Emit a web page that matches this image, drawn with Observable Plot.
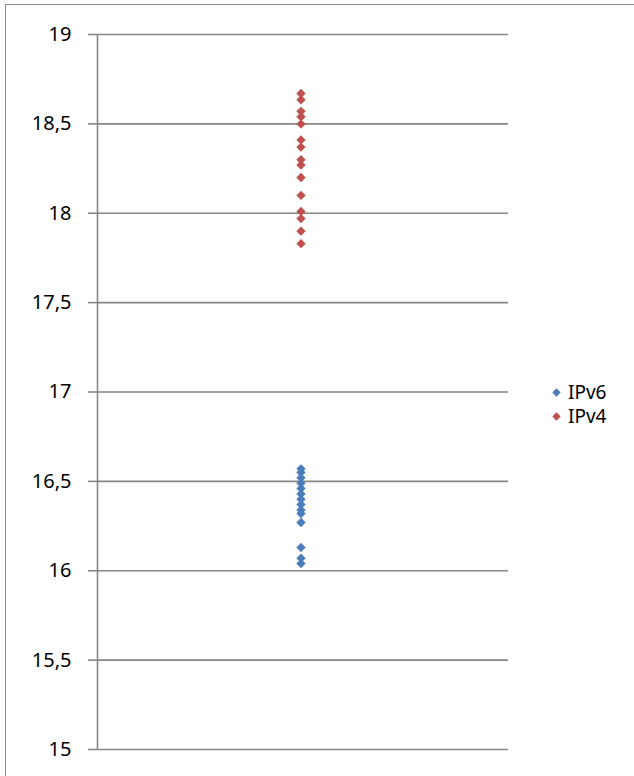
<!DOCTYPE html>
<html>
<head>
<meta charset="utf-8">
<script src="https://cdn.jsdelivr.net/npm/d3@7"></script>
<script src="https://cdn.jsdelivr.net/npm/@observablehq/plot@0.6"></script>
<style>
  html, body { margin: 0; padding: 0; background: #fff; }
  #wrap { position: relative; width: 634px; height: 776px; overflow: hidden; font-family: "Noto Sans", "Open Sans", sans-serif; }
  #frame { position: absolute; left: 5px; top: 4px; width: 700px; height: 900px; border-left: 1.5px solid #8a8a8a; border-top: 1.5px solid #8a8a8a; box-sizing: border-box; }
  #chart { position: absolute; left: 0; top: 0; }
  .legend { position: absolute; left: 551px; font-size: 19px; color: #000; line-height: 1; display: flex; align-items: center; }
  .legend svg { margin-right: 6px; }
</style>
</head>
<body>
<div id="wrap">
  <div id="frame"></div>
  <div id="chart"></div>
  <div class="legend" id="lg6" style="top:383px"></div>
  <div class="legend" id="lg4" style="top:407px"></div>
</div>
<script>
// Data
const seriesNames = ["IPv6", "IPv4"];
const seriesColors = ["#4a7ebb", "#c0504d"];
const ipv6Values = [16.57, 16.55, 16.52, 16.49, 16.46, 16.43, 16.40, 16.37, 16.34, 16.32, 16.27, 16.13, 16.07, 16.04];
const ipv4Values = [18.67, 18.635, 18.57, 18.54, 18.50, 18.41, 18.37, 18.30, 18.27, 18.20, 18.10, 18.01, 17.97, 17.90, 17.83];
const yTicks = [15, 15.5, 16, 16.5, 17, 17.5, 18, 18.5, 19];

const rows = [
  ...ipv6Values.map(v => ({series: "IPv6", value: v})),
  ...ipv4Values.map(v => ({series: "IPv4", value: v}))
];

const grey = "#868686";

const chart = Plot.plot({
  width: 634,
  height: 776,
  marginLeft: 97,
  marginRight: 126,
  marginTop: 34,
  marginBottom: 27,
  style: {fontFamily: "'Noto Sans', 'Open Sans', sans-serif", fontSize: "20px", background: "transparent", overflow: "visible"},
  x: {domain: [0, 1], axis: null},
  y: {domain: [15, 19], axis: null, label: null},
  color: {domain: seriesNames, range: seriesColors},
  marks: [
    Plot.ruleY(yTicks, {stroke: grey, strokeWidth: 1.6}),
    Plot.ruleX([0], {stroke: grey, strokeWidth: 1.6}),
    Plot.axisY({
      ticks: yTicks,
      label: null,
      tickSize: 9,
      tickPadding: 17,
      stroke: grey,
      strokeWidth: 1.6,
      fill: "#000",
      fontSize: 20,
      tickFormat: d => String(d).replace(".", ",")
    }),
    Plot.dot(rows, {
      x: () => 0.5,
      y: "value",
      dx: -2,
      symbol: "diamond2",
      r: 4.2,
      fill: "series",
      stroke: "none"
    })
  ]
});
document.getElementById("chart").appendChild(chart);

function legendItem(id, name, color) {
  const el = document.getElementById(id);
  el.innerHTML = `<svg width="11" height="11" viewBox="-5.5 -5.5 11 11"><path d="M0,-4.2L4.2,0L0,4.2L-4.2,0Z" fill="${color}"/></svg><span>${name}</span>`;
}
legendItem("lg6", seriesNames[0], seriesColors[0]);
legendItem("lg4", seriesNames[1], seriesColors[1]);
</script>
</body>
</html>
